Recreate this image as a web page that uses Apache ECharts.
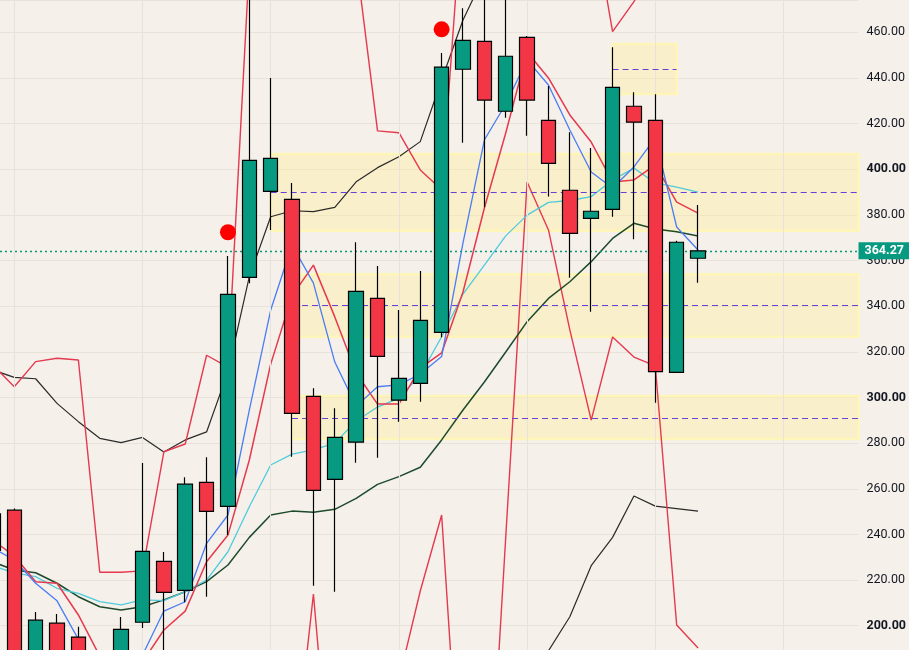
<!DOCTYPE html>
<html>
<head>
<meta charset="utf-8">
<script src="https://cdn.jsdelivr.net/npm/echarts@6/dist/echarts.min.js"></script>
<style>
html,body{margin:0;padding:0;background:#f5f1ea;}
#chart{width:909px;height:650px;}
</style>
</head>
<body>
<div id="chart"></div>
<script>
// slot index of the first candle (partly off the left edge)
const firstSlot = -1;
// OHLC per candle (slot -1 .. 32)
const opens  = [233, 250.6, 185, 201.1, 195, 180, 185, 201.5, 228.2, 215.5, 262.8, 252.3, 352.6, 390.3, 386.8, 300.5, 264.15, 280.4, 343.4, 298.8, 306.2, 328.55, 443.8, 456.05, 425.4, 457.8, 421.4, 390.8, 378.5, 382.4, 427.6, 421.4, 311.0, 361.0];
const closes = [249, 185, 202.4, 186, 185, 186, 198.4, 232.6, 214.6, 262.0, 250.1, 345.2, 403.9, 404.8, 293.05, 259.3, 282.5, 346.5, 318.0, 308.4, 333.8, 444.7, 456.5, 430.3, 449.5, 430.3, 402.6, 371.9, 381.6, 435.9, 420.6, 311.3, 368.0, 364.27];
const lows   = [228, 182, 180, 182, 180, 178, 182, 199, 185, 210.25, 212.7, 239.7, 350.0, 373.4, 274.0, 217.5, 214.9, 271.4, 273.6, 289.4, 298.1, 326.35, 411.6, 383.3, 422.6, 414.7, 388.0, 352.5, 337.6, 379.2, 369.3, 297.7, 311.0, 350.3];
const highs  = [252, 251.4, 206.0, 205.1, 199.5, 188, 203.8, 271.3, 232.3, 265.0, 273.8, 362.0, 480, 440.0, 394.0, 304.0, 295.3, 368.0, 357.6, 338.3, 355.4, 450.9, 470.5, 480, 480, 458.4, 436.5, 416.2, 409.3, 453.4, 433.7, 432.8, 368.7, 384.3];

// indicator lines (slot -1 .. 32)
const blackUpper = [312.0, 308.8, 308.2, 297.4, 289.4, 282.1, 280.2, 282.5, 276.1, 281.4, 284.9, 311.2, 352.9, 379.2, 381.8, 381.4, 383.3, 394.5, 400.7, 405.5, 412.1, 439.1, 465.4, 485, 490, 490, 490, 490, 490, 490, 490, 490, 490, 490];
const blackLower = [150, 150, 150, 150, 150, 150, 150, 150, 150, 150, 150, 150, 150, 150, 150, 150, 150, 150, 150, 150, 150, 150, 150, 150, 160, 175, 189.0, 203.9, 226.3, 238.7, 256.8, 252.4, 251.3, 250.2];
const redUpper   = [314.2, 304.7, 315.7, 317.2, 316.4, 223.4, 223.4, 224.0, 276.2, 279.6, 318.5, 313.3, 490, 500, 500, 500, 495, 491.7, 416.8, 416.0, 399.7, 391.0, 520, 520, 520, 520, 520, 520, 514.5, 460.3, 473.4, 490, 490, 490];
const redLower   = [150, 150, 150, 150, 150, 150, 150, 150, 150, 150, 150, 150, 150, 150, 129, 213.9, 106, 100, 100, 176.2, 215.2, 248.5, 105, 81, 238.8, 394.4, 373.4, 329.6, 290.1, 326.5, 317.7, 313.8, 200.3, 190.2];
const redAvg     = [237.5, 230.5, 219.3, 218.6, 204.7, 186.7, 181.5, 184.1, 198.1, 206.4, 228.0, 239.7, 272.6, 314.6, 344.5, 358.0, 335.3, 310.7, 297.1, 297.1, 312.9, 319.5, 346.2, 383.0, 415.9, 451.4, 440.0, 423.8, 411.9, 394.4, 395.3, 401.9, 385.6, 380.8];
const blueAvg    = [234.0, 228.8, 218.6, 210.9, 194.0, 171.8, 171.8, 187.1, 206.4, 210.5, 236.1, 248.5, 294.5, 338.3, 366.8, 350.1, 315.5, 296.2, 304.7, 305.5, 310.3, 317.9, 367.7, 412.8, 428.6, 447.9, 436.9, 417.2, 398.8, 391.8, 401.0, 413.7, 374.7, 364.6];
const cyanAvg    = [226.2, 223.1, 221.5, 216.4, 214.2, 210.5, 209.1, 211.3, 211.0, 214.9, 220.0, 232.4, 252.1, 270.4, 275.2, 277.0, 280.0, 289.7, 295.8, 299.7, 309.8, 326.6, 345.3, 358.0, 370.8, 379.9, 385.5, 386.3, 388.0, 395.3, 400.5, 394.0, 392.2, 390.0];
const greenAvg   = [227.9, 224.4, 223.2, 218.6, 212.7, 208.3, 206.9, 208.3, 211.3, 214.9, 219.3, 226.6, 238.7, 248.5, 250.2, 249.7, 251.0, 255.8, 261.9, 265.3, 269.4, 281.4, 294.5, 306.8, 319.9, 333.2, 343.4, 350.7, 359.5, 369.7, 376.3, 373.8, 372.6, 370.7];

// signal dots: [slot, price]
const signalSlots  = [10, 20];
const signalPrices = [372.4, 461.3];

// zones: start slot, end slot (null = to the right edge), top, bottom, middle
const zoneStart  = [28, 12, 13, 13];
const zoneEnd    = [31, null, null, null];
const zoneTop    = [454.9, 406.7, 354.0, 300.6];
const zoneBottom = [433.0, 373.1, 326.6, 281.8];
const zoneMid    = [443.8, 389.9, 340.4, 290.9];

const lastPrice = 364.27;
const gridSlots = [0, 6, 12, 18, 24, 30, 36];

const X_MIN = -0.6685, X_MAX = 39.51;
const Y_MIN = 189.35, Y_MAX = 474.15, Y_STEP = 20;

const xs = opens.map((_, i) => firstSlot + i);
const candleData = xs.map((x, i) => [x, opens[i], closes[i], lows[i], highs[i]]);
const pairs = arr => xs.map((x, i) => [x, arr[i]]);

function lineSeries(name, arr, color, width) {
  return {
    name, type: 'line', data: pairs(arr), symbol: 'none', z: 3, silent: true,
    lineStyle: { color, width }, clip: true
  };
}

const chart = echarts.init(document.getElementById('chart'), null, { renderer: 'canvas' });

const zoneAreas = zoneStart.map((s, i) => [
  { xAxis: s, yAxis: zoneTop[i] },
  { xAxis: zoneEnd[i] == null ? X_MAX : zoneEnd[i], yAxis: zoneBottom[i] }
]);
const dashStyle = { color: '#6a3fd6', width: 1, type: [6, 4] };
const zoneLines = zoneStart.map((s, i) => [
  { coord: [s, zoneMid[i]], lineStyle: dashStyle },
  { coord: [zoneEnd[i] == null ? X_MAX : zoneEnd[i], zoneMid[i]], lineStyle: dashStyle }
]);
const priceLineStyle = { color: '#089981', type: [2, 3], width: 1.3, opacity: 1 };

chart.setOption({
  animation: false,
  backgroundColor: '#f5f1ea',
  grid: { left: 0, right: 49.5, top: 0, bottom: 0, containLabel: false },
  xAxis: {
    type: 'value', min: X_MIN, max: X_MAX, show: false, splitLine: { show: false }
  },
  yAxis: {
    type: 'value', position: 'right', min: Y_MIN, max: Y_MAX,
    minInterval: Y_STEP, maxInterval: Y_STEP,
    axisLine: { show: false }, axisTick: { show: false },
    splitLine: { show: true, lineStyle: { color: '#e7e3db', width: 1 } },
    axisLabel: {
      margin: 8, color: '#131722', fontSize: 12.5, fontFamily: 'Roboto, sans-serif',
      showMinLabel: false, showMaxLabel: false,
      formatter: v => (Math.round(v) % 100 === 0 ? '{b|' + v.toFixed(2) + '}' : v.toFixed(2)),
      rich: { b: { fontWeight: 'bold', fontSize: 12.5, color: '#131722', fontFamily: 'Roboto, sans-serif' } }
    }
  },
  series: [
    {
      name: 'frame', type: 'line', data: [], z: 1, silent: true,
      markArea: {
        silent: true,
        itemStyle: { color: 'rgba(255,236,150,0.38)', borderColor: 'rgba(255,246,180,0.9)', borderWidth: 2.5 },
        data: zoneAreas
      },
      markLine: {
        silent: true, symbol: ['none', 'none'], animation: false,
        label: { show: false },
        data: gridSlots.map(s => ({ xAxis: s, lineStyle: { color: '#e7e3db', width: 1, type: 'solid' } }))
          .concat(zoneLines)
      }
    },
    lineSeries('bbUpper', blackUpper, '#2a2a2a', 1.2),
    lineSeries('bbLower', blackLower, '#2a2a2a', 1.2),
    lineSeries('envUpper', redUpper, '#e5394f', 1.4),
    lineSeries('envLower', redLower, '#e5394f', 1.4),
    lineSeries('maGreen', greenAvg, '#1d4a2c', 1.5),
    lineSeries('maCyan', cyanAvg, '#4fcbdc', 1.3),
    lineSeries('maRed', redAvg, '#e5394f', 1.5),
    lineSeries('maBlue', blueAvg, '#4a7cf5', 1.3),
    {
      name: 'price', type: 'candlestick', z: 5, silent: true,
      data: candleData, barWidth: 15,
      itemStyle: { color: '#089981', color0: '#f23645', borderColor: '#000', borderColor0: '#000', borderWidth: 1.2 }
    },
    {
      name: 'lastPrice', type: 'line', data: [], z: 6, silent: true, color: '#089981',
      lineStyle: { color: '#089981' }, itemStyle: { color: '#089981' },
      markLine: {
        silent: true, symbol: ['none', 'none'],
        lineStyle: priceLineStyle,
        label: {
          show: true, position: 'end', distance: 0,
          formatter: () => lastPrice.toFixed(2),
          backgroundColor: '#089981', color: '#fff', fontWeight: 'bold',
          fontSize: 12.5, fontFamily: 'Roboto, sans-serif', padding: [2, 8, 2, 6]
        },
        data: [{ yAxis: lastPrice, lineStyle: priceLineStyle }]
      }
    },
    {
      name: 'signals', type: 'scatter', z: 7, silent: true,
      data: signalSlots.map((s, i) => [s, signalPrices[i]]),
      symbolSize: 16, itemStyle: { color: '#ff0000', opacity: 1 }
    }
  ]
});
</script>
</body>
</html>
